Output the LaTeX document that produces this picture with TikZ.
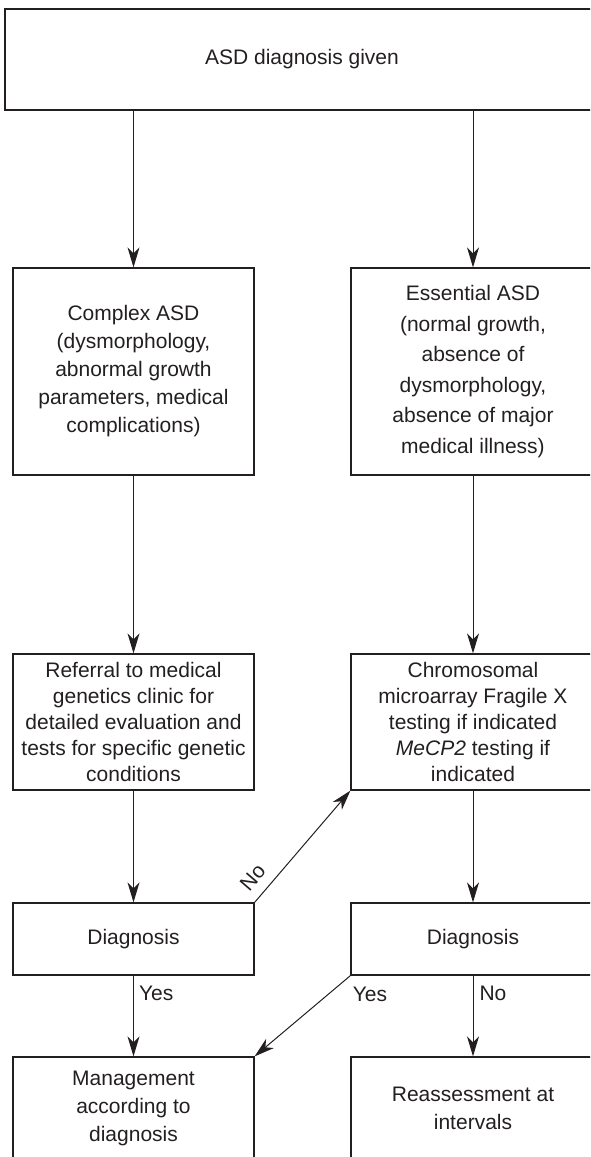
\documentclass[tikz,border=0pt]{standalone}
\usepackage{fontspec}
\setmainfont{Liberation Sans}
\usetikzlibrary{arrows.meta,calc}
\definecolor{ink}{HTML}{231F20}
\begin{document}
\begin{tikzpicture}[x=1pt,y=-1pt,
  box/.style={draw=ink, line width=1.3pt, rectangle, inner sep=0pt, align=center, text=ink, font=\fontsize{21}{28}\selectfont},
  lbox/.style={box, minimum width=241pt},
  rbox/.style={box, minimum width=244pt},
  tight/.style={font=\fontsize{21}{26}\selectfont},
  loose/.style={font=\fontsize{21}{30.5}\selectfont},
  arr/.style={draw=ink, line width=1pt, -{Stealth[length=20pt,width=12pt,inset=6pt]}},
  lab/.style={text=ink, font=\fontsize{21}{25}\selectfont, inner sep=0pt}]
\useasboundingbox (0,0) rectangle (590,1157);
\clip (0,0) rectangle (590,1157);
\node[box, minimum width=594pt, minimum height=101pt] (top) at (302,59.5) {ASD diagnosis given};
\node[lbox, minimum height=207pt] (complex) at (133.5,371.5) {Complex ASD\\(dysmorphology,\\abnormal growth\\parameters, medical\\complications)};
\node[rbox, loose, minimum height=207pt] (essential) at (473,371.5) {Essential ASD\\(normal growth,\\absence of\\dysmorphology,\\absence of major\\medical illness)};
\node[lbox, tight, minimum height=136pt] (referral) at (133.5,722) {Referral to medical\\genetics clinic for\\detailed evaluation and\\tests for specific genetic\\conditions};
\node[rbox, tight, minimum height=136pt] (chromo) at (473,722) {Chromosomal\\microarray Fragile X\\testing if indicated\\\textit{MeCP2} testing if\\indicated};
\node[lbox, minimum height=72pt] (diag1) at (133.5,939) {Diagnosis};
\node[rbox, minimum height=72pt] (diag2) at (473,939) {Diagnosis};
\node[lbox, minimum height=103pt] (mgmt) at (133.5,1108.5) {Management\\according to\\diagnosis};
\node[rbox, minimum height=103pt] (reass) at (473,1108.5) {Reassessment at\\intervals};
\draw[arr] (top.south -| complex.north) -- (complex.north);
\draw[arr] (top.south -| essential.north) -- (essential.north);
\draw[arr] (complex.south) -- (referral.north);
\draw[arr] (essential.south) -- (chromo.north);
\draw[arr] (referral.south) -- (diag1.north);
\draw[arr] (diag1.north east) -- node[lab, pos=0.12, sloped, above=10pt] {No} (chromo.south west);
\draw[arr] (chromo.south) -- (diag2.north);
\draw[arr] (diag1.south) -- node[lab, pos=0.22, anchor=west, xshift=5pt] {Yes} (mgmt.north);
\draw[arr] (diag2.south west) -- node[lab, pos=0, anchor=north west, xshift=2pt, yshift=-10.5pt] {Yes} (mgmt.north east);
\draw[arr] (diag2.south) -- node[lab, pos=0.22, anchor=west, xshift=6pt] {No} (reass.north);
\end{tikzpicture}
\end{document}
